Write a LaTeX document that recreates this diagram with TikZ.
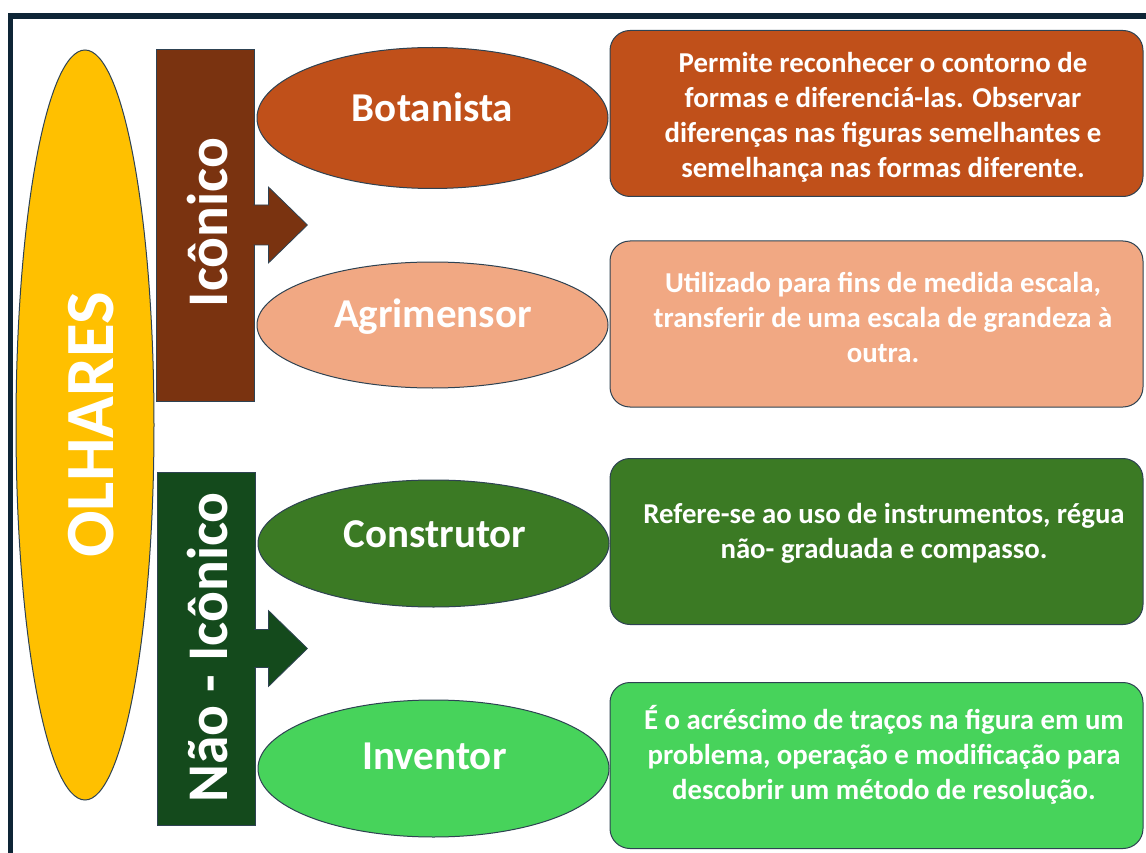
\documentclass[tikz,border=0pt]{standalone}
\usepackage{fontspec}
\setmainfont{Carlito}
\usetikzlibrary{shapes.geometric,calc}
\definecolor{framec}{HTML}{0E2536}
\definecolor{outl}{HTML}{2E4252}
\definecolor{goldc}{HTML}{FFC000}
\definecolor{brownc}{HTML}{7A3310}
\definecolor{orangec}{HTML}{C0501A}
\definecolor{salmonc}{HTML}{F1A883}
\definecolor{dgreenc}{HTML}{144A1C}
\definecolor{mgreenc}{HTML}{3B7A24}
\definecolor{lgreenc}{HTML}{47D35B}
\tikzset{
  ell/.style={ellipse, draw=outl, line width=1pt, inner sep=0pt},
  catrect/.style={rectangle, draw=outl, line width=0.8pt, inner sep=0pt, minimum width=98},
  infobox/.style={rectangle, rounded corners=20pt, draw=outl, line width=1pt, inner sep=0pt, minimum width=533, minimum height=166},
  elltxt/.style={text=white, font=\fontsize{41}{46}\selectfont\bfseries, inner sep=0pt},
  cattxt/.style={text=white, rotate=90, font=\fontsize{57.5}{60}\selectfont\bfseries, inner sep=0pt},
  boxtxt/.style={text=white, align=center, font=\fontsize{28.8}{35}\selectfont\bfseries, inner sep=0pt},
  blockarrow/.style={draw=outl, line width=0.8pt, line join=miter}
}
\begin{document}
\begin{tikzpicture}[x=1pt,y=-1pt]
\useasboundingbox (0,0) rectangle (1146,853);
\clip (0,0) rectangle (1146,853);
\fill[white] (0,0) rectangle (1146,853);
% frame
\draw[framec, line width=5.5pt] (10.5,880) -- (10.5,16) -- (1170,16);

% main ellipse
\node[ell, fill=goldc, minimum width=138, minimum height=750] (olh) at (85,425) {};
\node[text=white, rotate=90, font=\fontsize{69}{72}\selectfont\bfseries, inner sep=0pt] (olht) at (91,425) {OLHARES};

% category rectangles
\node[catrect, fill=brownc, minimum height=352] (ico) at (205,225) {};
\node[catrect, fill=dgreenc, minimum height=353] (nico) at (206,648.5) {};
\node[cattxt] (icot) at (208,222.5) {Icônico};
\node[cattxt] (nicot) at (208,647.5) {Não - Icônico};

% block arrows
\filldraw[blockarrow, fill=brownc] ($(ico.east)+(-1,-20)$) -- ($(ico.east)+(14,-20)$) -- ($(ico.east)+(14,-38)$) -- ($(ico.east)+(53,0)$) -- ($(ico.east)+(14,38)$) -- ($(ico.east)+(14,20)$) -- ($(ico.east)+(-1,20)$);
\filldraw[blockarrow, fill=dgreenc] ($(nico.east)+(-1,-19)$) -- ($(nico.east)+(13,-19)$) -- ($(nico.east)+(13,-38)$) -- ($(nico.east)+(52,0)$) -- ($(nico.east)+(13,38)$) -- ($(nico.east)+(13,19)$) -- ($(nico.east)+(-1,19)$);

% ellipses
\node[ell, fill=orangec, minimum width=351, minimum height=141] (bot) at (432.5,118) {};
\node[ell, fill=salmonc, minimum width=351, minimum height=126] (agr) at (432.5,325) {};
\node[ell, fill=mgreenc, minimum width=351, minimum height=127] (con) at (433.5,543.5) {};
\node[ell, fill=lgreenc, minimum width=351, minimum height=137] (inv) at (433.5,768.5) {};
\node[elltxt] (bott) at (432.5,107) {Botanista};
\node[elltxt] (agrt) at (433,317) {Agrimensor};
\node[elltxt] (cont) at (435,534) {Construtor};
\node[elltxt] (invt) at (434.5,756) {Inventor};

% info boxes
\node[infobox, fill=orangec] (b1) at (876.5,113.5) {};
\node[infobox, fill=salmonc] (b2) at (876.5,324) {};
\node[infobox, fill=mgreenc] (b3) at (876.5,541.5) {};
\node[infobox, fill=lgreenc] (b4) at (876.5,765.5) {};
\node[boxtxt] (b1t) at (883,117) {Permite reconhecer o contorno de\\formas e diferenciá-las. Observar\\diferenças nas figuras semelhantes e\\semelhança nas formas diferente.};
\node[boxtxt] (b2t) at (883,317) {Utilizado para fins de medida escala,\\transferir de uma escala de grandeza à\\outra.};
\node[boxtxt] (b3t) at (884,533) {Refere-se ao uso de instrumentos, régua\\não- graduada e compasso.};
\node[boxtxt] (b4t) at (884,755) {É o acréscimo de traços na figura em um\\problema, operação e modificação para\\descobrir um método de resolução.};
\end{tikzpicture}
\end{document}
